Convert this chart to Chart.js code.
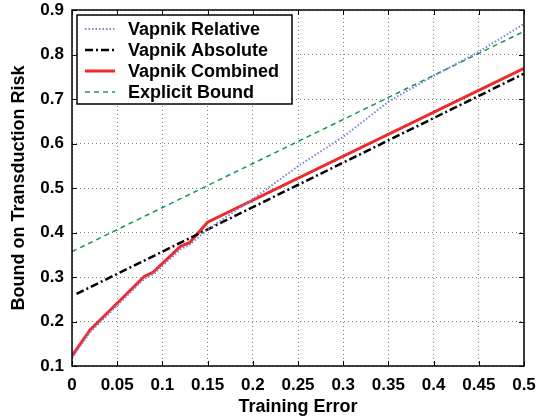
<!DOCTYPE html>
<html>
<head>
<meta charset="utf-8">
<script src="https://cdn.jsdelivr.net/npm/chart.js@4.4.1/dist/chart.umd.min.js"></script>
<style>
  html, body { margin: 0; padding: 0; background: #fff; }
  #wrap { width: 545px; height: 418px; }
</style>
</head>
<body>
<div id="wrap"><canvas id="boundChart" width="545" height="418"></canvas></div>
<script>
// values
const xTickLabels = ['0', '0.05', '0.1', '0.15', '0.2', '0.25', '0.3', '0.35', '0.4', '0.45', '0.5'];
const yTickLabels = ['0.1', '0.2', '0.3', '0.4', '0.5', '0.6', '0.7', '0.8', '0.9'];

const xRelative = [0, 0.02, 0.08, 0.09, 0.12, 0.13, 0.15, 0.2, 0.25, 0.3, 0.35, 0.4, 0.45, 0.5];
const yRelative = [0.118, 0.176, 0.296, 0.306, 0.362, 0.372, 0.407, 0.475, 0.549, 0.615, 0.694, 0.752, 0.806, 0.869];

const xAbsolute = [0.005, 0.5];
const yAbsolute = [0.262, 0.757];

const xCombined = [0, 0.02, 0.08, 0.09, 0.12, 0.13, 0.15, 0.5];
const yCombined = [0.123, 0.181, 0.301, 0.311, 0.369, 0.377, 0.423, 0.769];

const xExplicit = [0, 0.5];
const yExplicit = [0.357, 0.852];

function toPoints(xs, ys) {
    return xs.map((x, i) => ({ x: x, y: ys[i] }));
}

const FONT = '"Liberation Sans", Arial, Helvetica, sans-serif';

// inward tick marks on all four sides, like the original figure
const innerTicks = {
    id: 'innerTicks',
    afterDatasetsDraw(chart) {
        const { ctx, chartArea: a, scales } = chart;
        ctx.save();
        ctx.strokeStyle = '#000';
        ctx.lineWidth = 1;
        ctx.beginPath();
        scales.x.ticks.forEach(t => {
            const px = Math.round(scales.x.getPixelForValue(t.value)) + 0.5;
            ctx.moveTo(px, a.bottom); ctx.lineTo(px, a.bottom - 5);
            ctx.moveTo(px, a.top); ctx.lineTo(px, a.top + 5);
        });
        scales.y.ticks.forEach(t => {
            const py = Math.round(scales.y.getPixelForValue(t.value)) + 0.5;
            ctx.moveTo(a.left, py); ctx.lineTo(a.left + 5, py);
            ctx.moveTo(a.right, py); ctx.lineTo(a.right - 5, py);
        });
        ctx.stroke();
        ctx.lineWidth = 1.5;
        ctx.strokeRect(a.left, a.top, a.right - a.left, a.bottom - a.top);
        ctx.restore();
    }
};

// legend box inside the plot, top left
const boxLegend = {
    id: 'boxLegend',
    afterDraw(chart) {
        const { ctx, chartArea: a } = chart;
        const x0 = a.left + 5, y0 = a.top + 5, w = 215, h = 89;
        ctx.save();
        ctx.fillStyle = '#fff';
        ctx.fillRect(x0, y0, w, h);
        ctx.strokeStyle = '#000';
        ctx.lineWidth = 1.5;
        ctx.strokeRect(x0, y0, w, h);
        ctx.font = 'bold 18px ' + FONT;
        ctx.textBaseline = 'middle';
        chart.data.datasets.forEach((ds, i) => {
            const y = y0 + 14 + i * 21;
            ctx.beginPath();
            ctx.setLineDash(ds.borderDash || []);
            ctx.strokeStyle = ds.borderColor;
            ctx.lineWidth = ds.borderWidth;
            ctx.moveTo(x0 + 8, y);
            ctx.lineTo(x0 + 38, y);
            ctx.stroke();
            ctx.setLineDash([]);
            ctx.fillStyle = '#000';
            ctx.fillText(ds.label, x0 + 51, y + 1);
        });
        ctx.restore();
    }
};

const ctx = document.getElementById('boundChart').getContext('2d');
const boundChart = new Chart(ctx, {
    type: 'line',
    data: {
        datasets: [{
                label: 'Vapnik Relative',
                data: toPoints(xRelative, yRelative),
                borderColor: '#8080dc',
                borderWidth: 2,
                borderDash: [1.5, 2],
                pointRadius: 0,
                fill: false
            },
            {
                label: 'Vapnik Absolute',
                data: toPoints(xAbsolute, yAbsolute),
                borderColor: '#000000',
                borderWidth: 2.5,
                borderDash: [8, 3, 2, 3],
                pointRadius: 0,
                fill: false
            },
            {
                label: 'Vapnik Combined',
                data: toPoints(xCombined, yCombined),
                borderColor: '#ee2b2b',
                borderWidth: 3,
                pointRadius: 0,
                fill: false
            },
            {
                label: 'Explicit Bound',
                data: toPoints(xExplicit, yExplicit),
                borderColor: '#0f9a4a',
                borderWidth: 1.5,
                borderDash: [5, 4],
                pointRadius: 0,
                fill: false
            }
        ]
    },
    options: {
        responsive: false,
        animation: false,
        layout: { padding: { left: 0, right: 21, top: 10, bottom: 0 } },
        plugins: {
            legend: { display: false },
            tooltip: { enabled: false }
        },
        scales: {
            x: {
                type: 'linear',
                min: 0,
                max: 0.5,
                afterBuildTicks: s => { s.ticks = xTickLabels.map(v => ({ value: parseFloat(v) })); },
                ticks: {
                    callback: (v, i) => xTickLabels[i],
                    color: '#000',
                    font: { family: FONT, size: 17, weight: 'bold' },
                    padding: 9,
                    maxRotation: 0
                },
                grid: { color: '#808080', lineWidth: 1, drawTicks: false },
                border: { display: false, dash: [1, 3] },
                title: {
                    display: true,
                    text: 'Training Error',
                    color: '#000',
                    font: { family: FONT, size: 18, weight: 'bold' },
                    padding: { top: 0, bottom: 0 }
                },
                afterFit: s => { s.height = 52; s.paddingLeft = 0; s.paddingRight = 0; }
            },
            y: {
                min: 0.1,
                max: 0.9,
                afterBuildTicks: s => { s.ticks = yTickLabels.map(v => ({ value: parseFloat(v) })); },
                ticks: {
                    callback: (v, i) => yTickLabels[i],
                    color: '#000',
                    font: { family: FONT, size: 17, weight: 'bold' },
                    padding: 8
                },
                grid: { color: '#808080', lineWidth: 1, drawTicks: false },
                border: { display: false, dash: [1, 3] },
                title: {
                    display: true,
                    text: 'Bound on Transduction Risk',
                    color: '#000',
                    font: { family: FONT, size: 18, weight: 'bold' },
                    padding: { top: 8, bottom: 0 }
                },
                afterFit: s => { s.width = 72; s.paddingTop = 0; s.paddingBottom = 0; }
            }
        }
    },
    plugins: [innerTicks, boxLegend]
});
</script>
</body>
</html>
